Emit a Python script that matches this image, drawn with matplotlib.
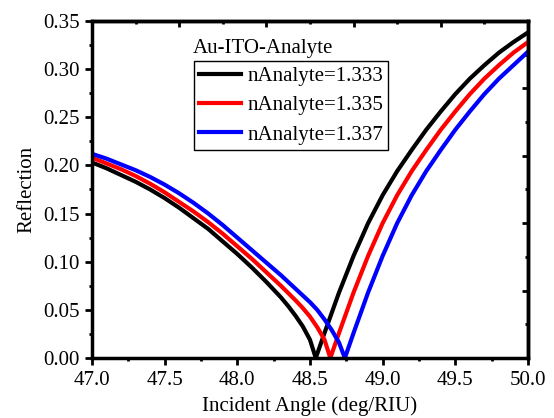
import matplotlib
matplotlib.use("Agg")
import matplotlib.pyplot as plt
from matplotlib.ticker import MultipleLocator, FixedLocator, FormatStrFormatter

plt.rcParams['font.family'] = ['Liberation Serif', 'DejaVu Serif']

# Data
x_1333 = [47.0, 47.1, 47.2, 47.3, 47.4, 47.5, 47.6, 47.7, 47.8, 47.9, 48.0, 48.1, 48.2, 48.3,
          48.35, 48.4, 48.45, 48.5, 48.54,
          48.6, 48.7, 48.8, 48.9, 49.0, 49.1, 49.2, 49.3, 49.4, 49.5, 49.6, 49.7, 49.8, 49.9, 50.0]
r_1333 = [0.203, 0.197, 0.190, 0.183, 0.175, 0.166, 0.156, 0.145, 0.134, 0.121, 0.108, 0.094, 0.079, 0.063,
          0.054, 0.044, 0.033, 0.019, 0.000,
          0.026, 0.068, 0.106, 0.140, 0.169, 0.194, 0.216, 0.237, 0.256, 0.274, 0.290, 0.304, 0.317, 0.328, 0.338]

x_1335 = [47.0, 47.1, 47.2, 47.3, 47.4, 47.5, 47.6, 47.7, 47.8, 47.9, 48.0, 48.1, 48.2, 48.3, 48.4,
          48.45, 48.5, 48.55, 48.6, 48.64,
          48.7, 48.8, 48.9, 49.0, 49.1, 49.2, 49.3, 49.4, 49.5, 49.6, 49.7, 49.8, 49.9, 50.0]
r_1335 = [0.208, 0.202, 0.196, 0.189, 0.181, 0.172, 0.162, 0.152, 0.141, 0.129, 0.116, 0.103, 0.089, 0.075, 0.060,
          0.052, 0.043, 0.032, 0.019, 0.000,
          0.026, 0.068, 0.106, 0.140, 0.169, 0.194, 0.216, 0.237, 0.256, 0.274, 0.290, 0.304, 0.317, 0.328]

x_1337 = [47.0, 47.1, 47.2, 47.3, 47.4, 47.5, 47.6, 47.7, 47.8, 47.9, 48.0, 48.1, 48.2, 48.3, 48.4,
          48.5, 48.55, 48.6, 48.65, 48.7, 48.74,
          48.8, 48.9, 49.0, 49.1, 49.2, 49.3, 49.4, 49.5, 49.6, 49.7, 49.8, 49.9, 50.0]
r_1337 = [0.212, 0.207, 0.201, 0.195, 0.188, 0.180, 0.171, 0.161, 0.150, 0.138, 0.125, 0.112, 0.099, 0.086, 0.072,
          0.058, 0.050, 0.040, 0.029, 0.016, 0.000,
          0.026, 0.068, 0.106, 0.140, 0.169, 0.194, 0.216, 0.237, 0.256, 0.274, 0.290, 0.304, 0.318]

labels = ["nAnalyte=1.333", "nAnalyte=1.335", "nAnalyte=1.337"]
colors = ["black", "red", "blue"]

fig = plt.figure(figsize=(5.54, 4.18), dpi=100)
ax = fig.add_axes([0.166, 0.1435, 0.787, 0.8065])

for xs, ys, lab, c in zip([x_1333, x_1335, x_1337], [r_1333, r_1335, r_1337], labels, colors):
    ax.plot(xs, ys, color=c, lw=3, label=lab)

ax.set_xlim(47.0, 50.0)
ax.set_ylim(0.0, 0.35)
ax.xaxis.set_major_locator(MultipleLocator(0.5))
ax.xaxis.set_minor_locator(MultipleLocator(0.25))
ax.yaxis.set_major_locator(MultipleLocator(0.05))
ax.yaxis.set_minor_locator(MultipleLocator(0.025))
ax.xaxis.set_major_formatter(FormatStrFormatter('%.1f'))
ax.yaxis.set_major_formatter(FormatStrFormatter('%.2f'))
ax.tick_params(which='major', direction='out', length=5, width=2, labelsize=15, pad=4)
ax.tick_params(which='minor', direction='out', length=2.5, width=2)
for s in ax.spines.values():
    s.set_linewidth(2.5)

# top and right axes with inward ticks
top = ax.secondary_xaxis('top')
top.xaxis.set_major_locator(FixedLocator([47.6, 48.2, 48.8, 49.4, 50.0]))
top.xaxis.set_minor_locator(FixedLocator([47.3, 47.9, 48.5, 49.1, 49.7]))
top.tick_params(which='major', direction='in', length=4, width=2, labeltop=False)
top.tick_params(which='minor', direction='in', length=2, width=2)
top.spines['top'].set_linewidth(2.5)

right = ax.secondary_yaxis('right')
right.yaxis.set_major_locator(FixedLocator([0.07, 0.14, 0.21, 0.28, 0.35]))
right.yaxis.set_minor_locator(FixedLocator([0.035, 0.105, 0.175, 0.245, 0.315]))
right.tick_params(which='major', direction='in', length=4, width=2, labelright=False)
right.tick_params(which='minor', direction='in', length=2, width=2)
right.spines['right'].set_linewidth(2.5)

ax.set_xlabel("Incident Angle (deg/RIU)", fontsize=15, labelpad=5)
ax.set_ylabel("Reflection", fontsize=15, labelpad=5)

leg = ax.legend(loc='upper left', bbox_to_anchor=(194 / 554, 1 - 61 / 418),
                bbox_transform=fig.transFigure, fontsize=15, frameon=True,
                fancybox=False, framealpha=1, edgecolor='black', borderaxespad=0,
                handlelength=2.0, handletextpad=0.3, labelspacing=0.47, borderpad=0.25)
leg.get_frame().set_linewidth(1.0)

fig.text(193 / 554, 1 - 48 / 418, "Au-ITO-Analyte", fontsize=15, ha='left', va='center')

fig.savefig("out.png", dpi=100)
